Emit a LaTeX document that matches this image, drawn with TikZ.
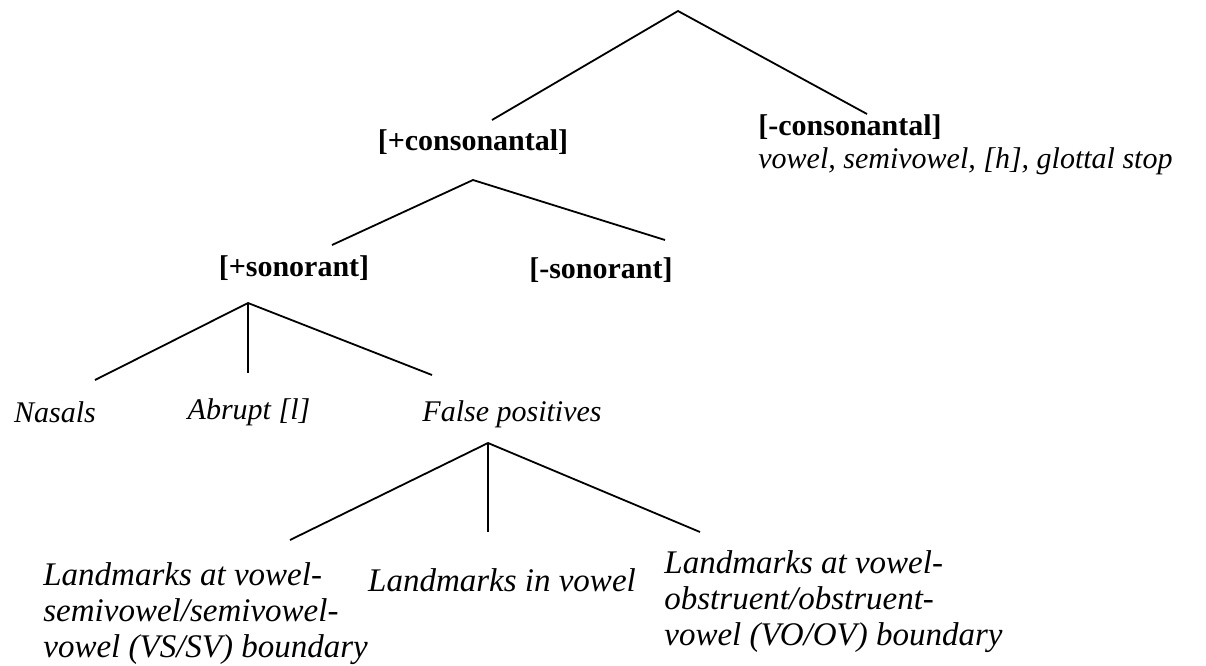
\documentclass[tikz,border=0pt]{standalone}
\usepackage{fontspec}
\setmainfont{Liberation Serif}
\usepackage{tikz}
\usetikzlibrary{positioning,calc}
\tikzset{
	feat/.style={font=\fontsize{15}{16.5}\selectfont\bfseries, inner sep=0, text centered},
	leaf/.style={font=\fontsize{15}{16.5}\selectfont\itshape, inner sep=0, align=left},
	lowleaf/.style={font=\fontsize{16.5}{18}\selectfont\itshape, inner sep=0, align=left},
	branch/.style={color=black, line width=0.9pt}
}

\begin{document}
\begin{tikzpicture}[x=0.5pt,y=-0.5pt]
	\useasboundingbox (0,0) rectangle (1206,665);
	%%%root
	\coordinate (r0) at (678,11);
	\coordinate (r1) at (492,120);
	\coordinate (r2) at (867,114);
	\node[feat] (consp) at (473,142) {[+consonantal]};
	\node[leaf,anchor=west] (consm) at (758,145) {\textbf{\upshape[-consonantal]}\\vowel, semivowel, [h], glottal stop};
	\draw[branch] (r1) -- (r0) -- (r2);

	%%%consonantal
	\coordinate (c0) at (473,180);
	\coordinate (c1) at (332,245);
	\coordinate (c2) at (665,240);
	\node[feat] (sonp) at (294,268) {[+sonorant]};
	\node[feat] (sonm) at (601,270) {[-sonorant]};
	\draw[branch] (c1) -- (c0) -- (c2);

	%%%sonorant
	\coordinate (s0) at (248,303);
	\coordinate (s1) at (95,380);
	\coordinate (s2) at (248,373);
	\coordinate (s3) at (432,375);
	\node[leaf] (nasal) at (55,412) {Nasals};
	\node[leaf] (abrupt) at (249,412) {Abrupt [l]};
	\node[leaf] (falsep) at (512,414) {False positives};
	\draw[branch] (s1) -- (s0) -- (s3);
	\draw[branch] (s0) -- (s2);

	%%%false positives
	\coordinate (f0) at (488,443);
	\coordinate (f1) at (290,540);
	\coordinate (f2) at (488,532);
	\coordinate (f3) at (700,532);
	\node[lowleaf,anchor=west] (lmvs) at (43,614) {Landmarks at vowel-\\semivowel/semivowel-\\vowel (VS/SV) boundary};
	\node[lowleaf] (lmin) at (502,580) {Landmarks in vowel};
	\node[lowleaf,anchor=west] (lmvo) at (664,602) {Landmarks at vowel-\\obstruent/obstruent-\\vowel (VO/OV) boundary};
	\draw[branch] (f1) -- (f0) -- (f3);
	\draw[branch] (f0) -- (f2);

\end{tikzpicture}
\end{document}
